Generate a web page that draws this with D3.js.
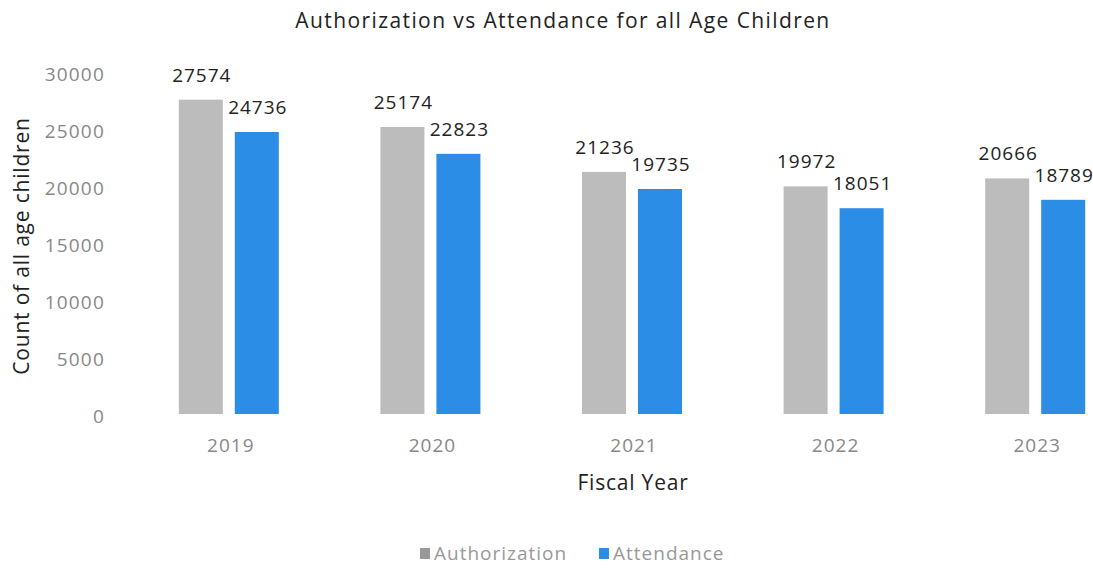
<!DOCTYPE html>
<html>
<head>
<meta charset="utf-8">
<script src="https://cdn.jsdelivr.net/npm/d3@7"></script>
<style>
  html, body { margin: 0; padding: 0; background: #fff; }
  svg { display: block; font-family: "Open Sans", "Liberation Sans", sans-serif; }
</style>
</head>
<body>
<svg id="chart" width="1093" height="569"></svg>
<script>
const years = ["2019", "2020", "2021", "2022", "2023"];
const seriesNames = ["Authorization", "Attendance"];
const authorization = [27574, 25174, 21236, 19972, 20666];
const attendance = [24736, 22823, 19735, 18051, 18789];
const yTicks = [0, 5000, 10000, 15000, 20000, 25000, 30000];
const colors = ["#bcbcbc", "#2b8de6"];

const svg = d3.select("#chart");

const x = d3.scaleBand().domain(years).range([128, 1136]).padding(0);
const xSub = d3.scaleBand().domain(seriesNames).range([0, 100]).paddingInner(0.214).paddingOuter(0);
const y = d3.scaleLinear().domain([0, 30000]).range([414, 72]);

const data = years.map((yr, i) => ({
  year: yr,
  values: [
    { name: seriesNames[0], value: authorization[i] },
    { name: seriesNames[1], value: attendance[i] }
  ]
}));

// Title
svg.append("text")
  .attr("x", 563).attr("y", 28)
  .attr("text-anchor", "middle")
  .attr("font-size", 21)
  .attr("letter-spacing", 1.4)
  .attr("fill", "#222")
  .text("Authorization vs Attendance for all Age Children");

// Y axis
const yAxis = d3.axisLeft(y).tickValues(yTicks).tickSize(0).tickPadding(0).tickFormat(d3.format("d"));
const gy = svg.append("g").attr("transform", "translate(105,2)").call(yAxis);
gy.select(".domain").remove();
gy.selectAll("text").attr("font-size", 19).attr("letter-spacing", 1.2)
  .attr("fill", "#888").attr("font-family", "Open Sans, sans-serif");

// X axis
const xAxis = d3.axisBottom(x).tickSize(0).tickPadding(0);
const gx = svg.append("g").attr("transform", "translate(2,438)").call(xAxis);
gx.select(".domain").remove();
gx.selectAll("text").attr("font-size", 19).attr("letter-spacing", 1)
  .attr("fill", "#888").attr("font-family", "Open Sans, sans-serif");

// Bars
const groups = svg.append("g").selectAll("g.grp").data(data).join("g")
  .attr("class", "grp")
  .attr("transform", d => `translate(${x(d.year) + x.bandwidth() / 2 - 50},0)`);

groups.selectAll("rect").data(d => d.values).join("rect")
  .attr("x", d => xSub(d.name))
  .attr("width", xSub.bandwidth())
  .attr("y", d => y(d.value))
  .attr("height", d => y(0) - y(d.value))
  .attr("fill", (d, i) => colors[i]);

groups.selectAll("text.val").data(d => d.values).join("text")
  .attr("class", "val")
  .attr("x", d => xSub(d.name) + xSub.bandwidth() / 2 + 1)
  .attr("y", d => y(d.value) - 18)
  .attr("text-anchor", "middle")
  .attr("font-size", 19)
  .attr("letter-spacing", 1)
  .attr("fill", "#222")
  .text(d => d.value);

// Axis titles
svg.append("text")
  .attr("transform", "translate(29,246) rotate(-90)")
  .attr("text-anchor", "middle")
  .attr("font-size", 21)
  .attr("letter-spacing", 0.8)
  .attr("fill", "#222")
  .text("Count of all age children");

svg.append("text")
  .attr("x", 633).attr("y", 490)
  .attr("text-anchor", "middle")
  .attr("font-size", 21)
  .attr("letter-spacing", 0.8)
  .attr("fill", "#222")
  .text("Fiscal Year");

// Legend
const legend = svg.append("g");
const legendX = [420, 599];
seriesNames.forEach((name, i) => {
  const g = legend.append("g").attr("transform", `translate(${legendX[i]},548)`);
  g.append("rect").attr("x", 0).attr("y", 0).attr("width", 10).attr("height", 11)
    .attr("fill", i === 0 ? "#999" : colors[1]);
  g.append("text").attr("x", 14).attr("y", 12)
    .attr("font-size", 19).attr("letter-spacing", 1).attr("fill", "#999")
    .text(name);
});
</script>
</body>
</html>
